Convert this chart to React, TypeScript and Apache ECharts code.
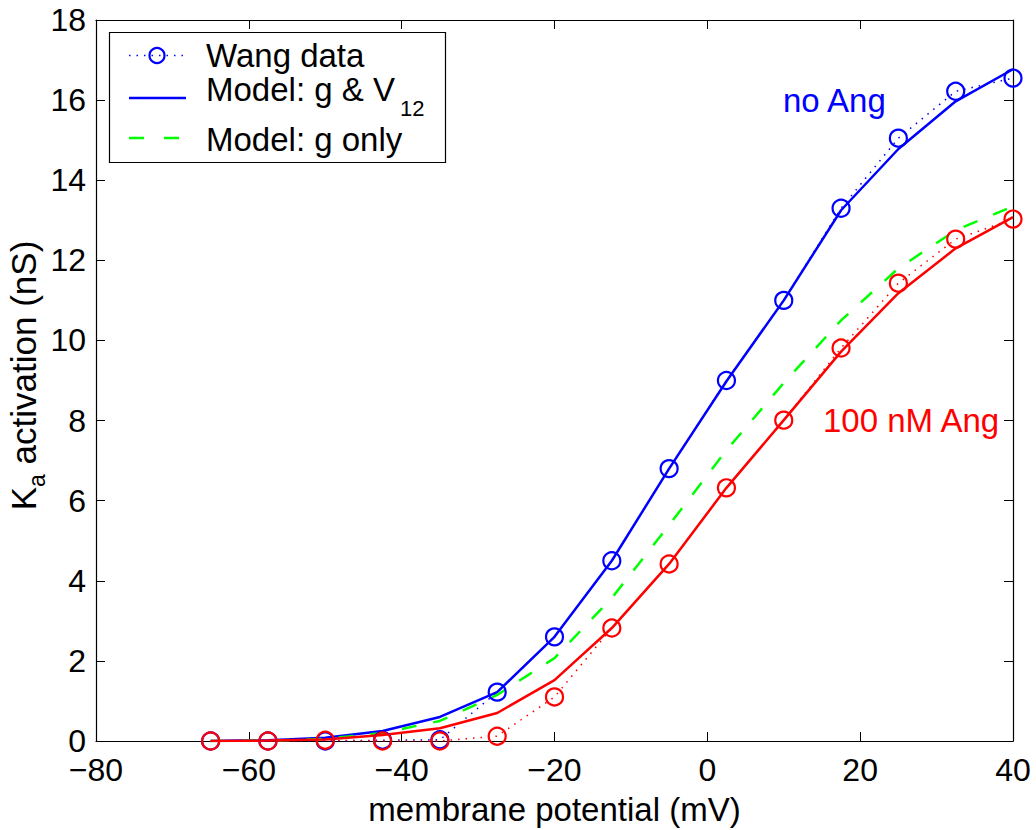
import React, { useEffect, useRef } from "react";
import * as echarts from "echarts";

const potentials = [-65, -57.5, -50, -42.5, -35, -27.5, -20, -12.5, -5, 2.5, 10, 17.5, 25, 32.5, 40];
const wangNoAng = [0, 0, 0, 0.02, 0.03, 1.22, 2.6, 4.5, 6.8, 9.0, 11.0, 13.3, 15.05, 16.22, 16.55];
const wangAng = [0, 0, 0.02, 0, 0, 0.12, 1.1, 2.82, 4.42, 6.32, 8.01, 9.81, 11.43, 12.53, 13.03];
const modelNoAng = [0, 0.02, 0.08, 0.25, 0.6, 1.22, 2.6, 4.5, 6.8, 8.98, 11.0, 13.25, 14.78, 15.97, 16.77];
const modelAng = [0, 0.01, 0.04, 0.15, 0.32, 0.7, 1.52, 2.82, 4.42, 6.32, 8.01, 9.72, 11.18, 12.3, 13.08];
const modelGOnly = [0, 0.01, 0.05, 0.2, 0.5, 1.15, 2.07, 3.57, 5.39, 7.26, 8.94, 10.5, 11.8, 12.75, 13.35];

const xTicks = { min: -80, max: 40, interval: 20 };
const yTicks = { min: 0, max: 18, interval: 2 };

const FONT = "'Liberation Sans', Arial, Helvetica, sans-serif";
const BLUE = "#0000ff";
const RED = "#ff0000";
const GREEN = "#00ff00";
const TXT = 33;

const pairs = (ys: number[]) => potentials.map((x, i) => [x, ys[i]]);

export default function App() {
  const ref = useRef<HTMLDivElement>(null);
  useEffect(() => {
    if (!ref.current) return;
    const chart = echarts.init(ref.current, null, { renderer: "svg" });
    const axisLine = { show: true, onZero: false, lineStyle: { color: "#000", width: 1.2 } };
    const axisTick = { show: true, inside: true, length: 9, lineStyle: { color: "#000", width: 1 } };
    const dataSeries = (name: string, ys: number[], color: string) => ({
      name,
      type: "line",
      data: pairs(ys),
      symbol: "circle",
      symbolSize: 17,
      itemStyle: { color: "rgba(0,0,0,0)", borderColor: color, borderWidth: 2.2 },
      lineStyle: { color, width: 1.5, type: [1.5, 6] },
      emphasis: { disabled: true },
    });
    const modelSeries = (name: string, ys: number[], color: string, dashed: boolean) => ({
      name,
      type: "line",
      data: pairs(ys),
      symbol: "none",
      lineStyle: { color, width: 2.5, type: dashed ? [15, 17] : "solid" },
      emphasis: { disabled: true },
    });
    chart.setOption({
      animation: false,
      backgroundColor: "#fff",
      textStyle: { fontFamily: FONT },
      grid: { left: 96, top: 20, right: 23, bottom: 89, containLabel: false, outerBoundsMode: "none" },
      xAxis: [
        {
          type: "value",
          ...xTicks,
          position: "bottom",
          axisLine,
          axisTick,
          splitLine: { show: false },
          axisLabel: {
            color: "#000",
            fontSize: 32,
            lineHeight: 20,
            fontFamily: FONT,
            margin: 19,
            formatter: (v: number) => (v < 0 ? "\u2212" + Math.abs(v) : String(v)),
          },
          name: "membrane potential (mV)",
          nameLocation: "middle",
          nameGap: 52,
          nameMoveOverlap: false,
          nameTextStyle: { color: "#000", fontSize: TXT, fontFamily: FONT },
        },
        {
          type: "value",
          ...xTicks,
          position: "top",
          axisLine,
          axisTick,
          splitLine: { show: false },
          axisLabel: { show: false },
        },
      ],
      yAxis: [
        {
          type: "value",
          ...yTicks,
          position: "left",
          axisLine,
          axisTick,
          splitLine: { show: false },
          axisLabel: { color: "#000", fontSize: 32, lineHeight: 20, fontFamily: FONT, margin: 10 },
          name: "K{sub|a} activation (nS)",
          nameLocation: "middle",
          nameGap: 90,
          nameMoveOverlap: false,
          nameTextStyle: {
            color: "#000",
            fontSize: 35,
            fontFamily: FONT,
            lineHeight: 34,
            verticalAlign: "top",
            padding: [0, 0, 0, 10],
            rich: {
              sub: { fontSize: 23, fontFamily: FONT, color: "#000", lineHeight: 23, verticalAlign: "top", padding: [19, 0, 0, 0] },
            },
          },
        },
        {
          type: "value",
          ...yTicks,
          position: "right",
          axisLine,
          axisTick,
          splitLine: { show: false },
          axisLabel: { show: false },
        },
      ],
      series: [
        dataSeries("Wang data (no Ang)", wangNoAng, BLUE),
        modelSeries("Model: g & V12 (no Ang)", modelNoAng, BLUE, false),
        modelSeries("Model: g only", modelGOnly, GREEN, true),
        dataSeries("Wang data (100 nM Ang)", wangAng, RED),
        modelSeries("Model: g & V12 (100 nM Ang)", modelAng, RED, false),
      ],
      graphic: [
        {
          type: "text",
          x: 783,
          y: 100,
          style: { text: "no Ang", fill: BLUE, font: `${TXT}px ${FONT}`, verticalAlign: "middle", align: "left" },
          z: 10,
        },
        {
          type: "text",
          x: 823,
          y: 420,
          style: { text: "100 nM Ang", fill: RED, font: `${TXT}px ${FONT}`, verticalAlign: "middle", align: "left" },
          z: 10,
        },
        {
          type: "group",
          z: 20,
          children: [
            {
              type: "rect",
              shape: { x: 109.5, y: 32.5, width: 336, height: 130 },
              style: { fill: "#fff", stroke: "#000", lineWidth: 1.2 },
            },
            {
              type: "line",
              shape: { x1: 129, y1: 55.5, x2: 186, y2: 55.5 },
              style: { stroke: BLUE, lineWidth: 1.5, lineDash: [1.5, 6] },
            },
            {
              type: "circle",
              shape: { cx: 157, cy: 55.5, r: 7.5 },
              style: { fill: "none", stroke: BLUE, lineWidth: 2.2 },
            },
            {
              type: "text",
              x: 206,
              y: 55,
              style: { text: "Wang data", fill: "#000", font: `${TXT}px ${FONT}`, lineHeight: 26, verticalAlign: "middle" },
            },
            {
              type: "line",
              shape: { x1: 129, y1: 98, x2: 186, y2: 98 },
              style: { stroke: BLUE, lineWidth: 2.5 },
            },
            {
              type: "text",
              x: 206,
              y: 73,
              style: {
                text: "{m|Model: g & V}{s|12}",
                fill: "#000",
                font: `${TXT}px ${FONT}`,
                verticalAlign: "top",
                rich: {
                  m: { fontSize: TXT, fontFamily: FONT, lineHeight: 26, verticalAlign: "top" },
                  s: { fontSize: 22, fontFamily: FONT, lineHeight: 20, verticalAlign: "top", padding: [24, 0, 0, 5] },
                },
              },
            },
            {
              type: "line",
              shape: { x1: 129, y1: 138, x2: 186, y2: 138 },
              style: { stroke: GREEN, lineWidth: 2.5, lineDash: [15, 20] },
            },
            {
              type: "text",
              x: 206,
              y: 139,
              style: { text: "Model: g only", fill: "#000", font: `${TXT}px ${FONT}`, lineHeight: 26, verticalAlign: "middle" },
            },
          ],
        },
      ],
    });
    return () => chart.dispose();
  }, []);
  return (
    <div
      ref={ref}
      style={{ position: "fixed", left: 0, top: 0, width: 1036, height: 830, background: "#fff" }}
    />
  );
}
